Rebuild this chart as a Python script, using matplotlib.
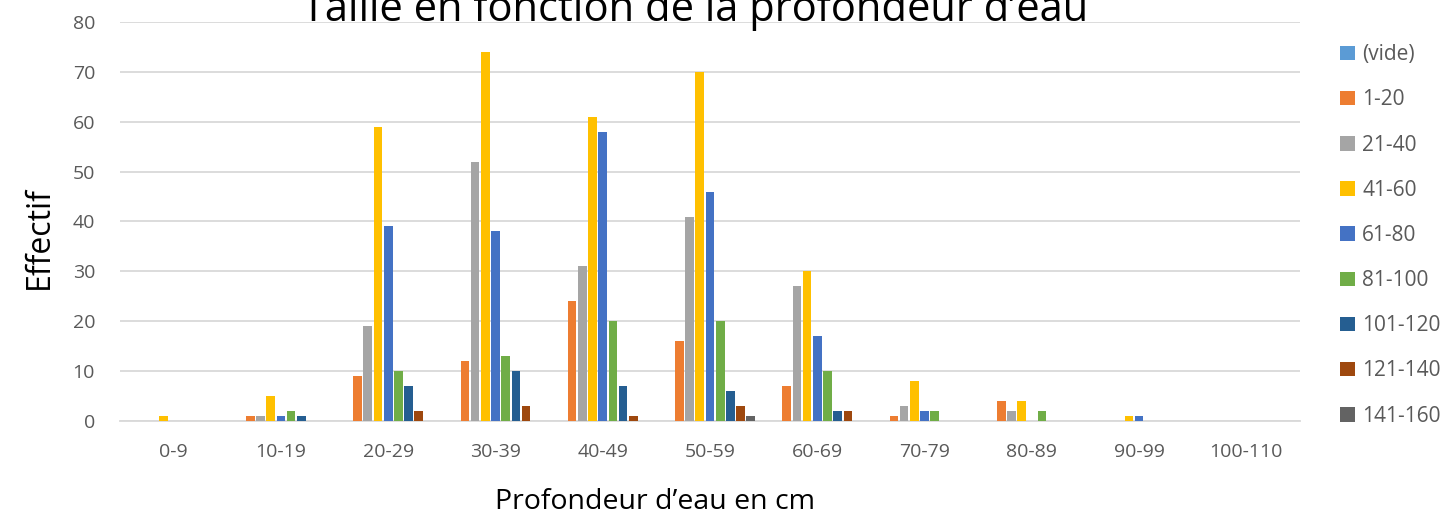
import numpy as np
import matplotlib.pyplot as plt

# catégories de profondeur (axe x)
categories = ["0-9", "10-19", "20-29", "30-39", "40-49", "50-59",
              "60-69", "70-79", "80-89", "90-99", "100-110"]

# classes de taille (séries)
series_names = ["(vide)", "1-20", "21-40", "41-60", "61-80",
                "81-100", "101-120", "121-140", "141-160"]

vide = [0, 0, 0, 0, 0, 0, 0, 0, 0, 0, 0]
t1_20 = [0, 1, 9, 12, 24, 16, 7, 1, 4, 0, 0]
t21_40 = [0, 1, 19, 52, 31, 41, 27, 3, 2, 0, 0]
t41_60 = [1, 5, 59, 74, 61, 70, 30, 8, 4, 1, 0]
t61_80 = [0, 1, 39, 38, 58, 46, 17, 2, 0, 1, 0]
t81_100 = [0, 2, 10, 13, 20, 20, 10, 2, 2, 0, 0]
t101_120 = [0, 1, 7, 10, 7, 6, 2, 0, 0, 0, 0]
t121_140 = [0, 0, 2, 3, 1, 3, 2, 0, 0, 0, 0]
t141_160 = [0, 0, 0, 0, 0, 1, 0, 0, 0, 0, 0]

series_values = [vide, t1_20, t21_40, t41_60, t61_80,
                 t81_100, t101_120, t121_140, t141_160]

colors = ["#5B9BD5", "#ED7D31", "#A5A5A5", "#FFC000", "#4472C4",
          "#70AD47", "#255E91", "#9E480E", "#636363"]

FONT = ["Open Sans", "DejaVu Sans"]
GRAY_TXT = "#595959"


def main():
    plt.rcParams['font.family'] = FONT
    fig = plt.figure(figsize=(14.44, 5.16), dpi=100)
    ax = fig.add_axes([120 / 1444, 1 - 421 / 516, 1180 / 1444, 399 / 516])

    n = len(series_names)
    x = np.arange(len(categories))
    slot = 0.095
    for i, (name, vals) in enumerate(zip(series_names, series_values)):
        offs = (i - (n - 1) / 2) * slot
        ax.bar(x + offs, vals, width=slot * 0.85, color=colors[i],
               label=name, zorder=3)

    ax.set_xlim(-0.5, len(categories) - 0.5)
    ax.set_ylim(0, 80)
    ax.set_yticks(range(0, 81, 10))
    ax.set_xticks(x)
    ax.set_xticklabels(categories)
    ax.tick_params(axis='both', length=0, labelsize=14, colors=GRAY_TXT)
    ax.tick_params(axis='x', pad=16)
    ax.tick_params(axis='y', pad=18)

    ax.grid(axis='y', color="#D9D9D9", linewidth=1.3, zorder=0)
    for s in ["top", "right", "left"]:
        ax.spines[s].set_visible(False)
    ax.spines["bottom"].set_color("#D9D9D9")
    ax.spines["bottom"].set_linewidth(1.3)

    fig.text(39 / 1444, 1 - 238 / 516, "Effectif", rotation=90,
             ha='center', va='center', fontsize=23, color="black")
    fig.text(655 / 1444, 1 - 502 / 516, "Profondeur d\u2019eau en cm",
             ha='center', va='center', fontsize=20.5, color="black")
    fig.text(695 / 1444, 1 - 21 / 516,
             "Taille en fonction de la profondeur d\u2019eau",
             ha='center', va='baseline', fontsize=30, color="black")

    leg = ax.legend(loc='upper left', bbox_to_anchor=(1212 / 1180, 0.965),
                    frameon=False, fontsize=15, handlelength=0.7,
                    handleheight=0.7, handletextpad=0.35, labelspacing=1.16,
                    borderaxespad=0)
    for t in leg.get_texts():
        t.set_color(GRAY_TXT)

    fig.savefig("out.png", dpi=100)
    plt.close(fig)


if __name__ == "__main__":
    main()
